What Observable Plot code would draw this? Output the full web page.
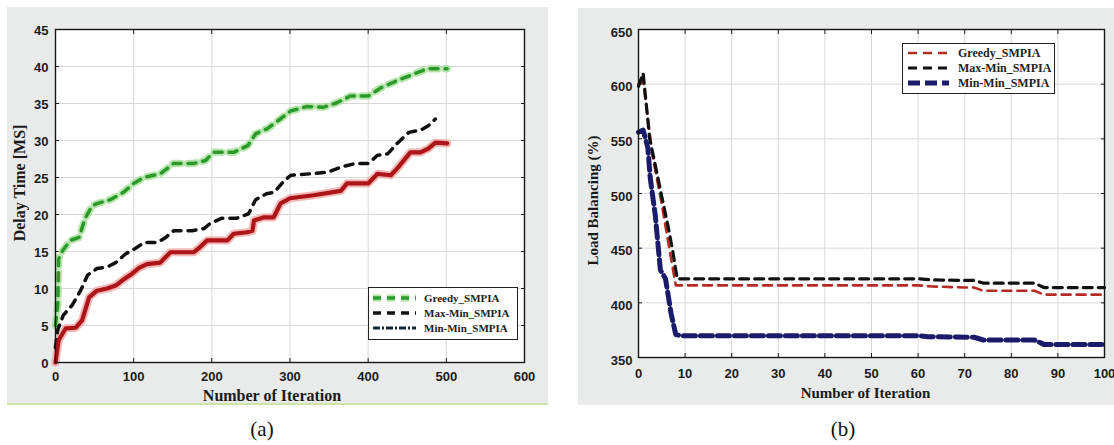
<!DOCTYPE html>
<html><head><meta charset="utf-8">
<script src="https://cdn.jsdelivr.net/npm/d3@7"></script>
<script src="https://cdn.jsdelivr.net/npm/@observablehq/plot@0.6"></script>
<style>
body{margin:0;background:#fff;}
#wrap{position:relative;width:1114px;height:445px;overflow:hidden;}
.panel{position:absolute;background:#e9eaea;}
.panel svg{display:block;}
.cap{position:absolute;font-family:"Liberation Serif","Times New Roman",serif;font-size:21px;color:#111;transform:translate(-50%,-50%);}
.legend{position:absolute;background:#fff;border:1.5px solid #222;box-sizing:border-box;}
.legend svg{display:block;overflow:visible;}
</style></head><body><div id="wrap"></div>
<script>
// ---------- data ----------
const seriesNames = ["Greedy_SMPIA", "Max-Min_SMPIA", "Min-Min_SMPIA"];

// Panel (a): Delay Time [MS] vs Number of Iteration
const delayXTicks = [0, 100, 200, 300, 400, 500, 600];
const delayYTicks = [0, 5, 10, 15, 20, 25, 30, 35, 40, 45];
const delayGreedy = [[0,5],[3,8],[4,14],[9,15.1],[19,16.5],[30,16.9],[38,19.5],[47,21.2],[54,21.5],[70,22],[87,23],[100,24.2],[113,25],[134,25.5],[151,26.9],[177,26.9],[192,27.3],[202,28.4],[228,28.4],[246,29.3],[256,30.9],[271,31.6],[285,32.7],[301,34],[322,34.6],[343,34.5],[360,35.1],[377,36],[400,36],[416,37.1],[437,38.1],[454,38.8],[476,39.7],[501,39.7]];
const delayMaxMin = [[0,2],[2.5,4.3],[10,6.4],[21,7.7],[32,9.7],[41,11.8],[53,12.7],[66,12.9],[77,13.5],[90,14.7],[102,15.4],[113,16.2],[130,16.2],[141,16.9],[151,17.8],[175,17.8],[190,18.1],[198,18.8],[213,19.5],[232,19.5],[247,20.1],[256,22],[270,22.8],[280,23],[292,24.5],[301,25.3],[326,25.5],[348,25.7],[365,26.4],[384,26.9],[400,26.9],[412,28],[425,28.2],[437,29.6],[452,31.1],[467,31.4],[477,32],[486,32.9]];
const delayMinMin = [[0,0],[4,3],[13,4.6],[26,4.7],[34,5.7],[43,8.8],[53,9.7],[66,10],[77,10.4],[88,11.3],[98,12],[107,12.8],[117,13.3],[134,13.5],[147,14.9],[177,14.9],[185,15.6],[194,16.5],[220,16.5],[228,17.4],[245,17.6],[252,17.8],[254,19.2],[266,19.6],[279,19.6],[288,21.5],[300,22.2],[330,22.6],[365,23.2],[373,24.2],[400,24.2],[412,25.5],[429,25.3],[437,26.2],[454,28.4],[467,28.4],[477,28.9],[486,29.7],[501,29.6]];

// Panel (b): Load Balancing (%) vs Number of Iteration
const loadXTicks = [0, 10, 20, 30, 40, 50, 60, 70, 80, 90, 100];
const loadYTicks = [350, 400, 450, 500, 550, 600, 650];
const loadGreedy = [[0,600],[1,603],[3,535],[5,490],[6.6,450],[8,416],[60,416],[63,415],[70,414],[72,414],[74,411],[85,411],[87,407.5],[100,407.5]];
const loadMaxMin = [[0,598],[1,610],[2.4,550],[3.6,526],[5.1,495],[6.3,471],[7.4,446],[8.3,422],[60,422],[63,421],[70,420.5],[72,420.5],[74,418],[85,418],[87,414],[100,414]];
const loadMinMin = [[0,556],[1,558],[2,542],[2.5,515],[3.6,480],[4.7,430],[5.8,422],[7,390],[8,371],[9,370],[60,370],[62,369],[72,368.5],[74,366],[85,366],[87,362],[100,362]];

// ---------- styles ----------
const styleA = [
  {stroke:"#2b9a2b", width:3.5, dash:"8,7", halo:"#a6de98"},
  {stroke:"#111111", width:3.5, dash:"8,7", halo:null},
  {stroke:"#ad1518", width:4.2, dash:null, halo:"#f0a8a8"}
];
const legendStyleA = [
  {stroke:"#2b9a2b", width:3.5, dash:"8,6", halo:"#a6de98"},
  {stroke:"#111111", width:3.5, dash:"8,6", halo:null},
  {stroke:"#10283e", width:3, dash:"7,2,2,2", halo:null}
];
const styleB = [
  {stroke:"#b62a24", width:2.6, dash:"9,6", halo:null},
  {stroke:"#111111", width:3.2, dash:"9,6", halo:null},
  {stroke:"#1b1b6c", width:5, dash:"12,5", halo:null}
];

const rows = s => s.map(([x, y]) => ({x, y}));
const serif = "'Liberation Serif','Times New Roman',serif";
const sans = "'Liberation Sans',Arial,sans-serif";

function lineMarks(series, styles) {
  const out = [];
  series.forEach((s, i) => {
    const st = styles[i];
    if (st.halo) out.push(Plot.line(rows(s), {x:"x", y:"y", stroke:st.halo, strokeWidth:st.width + 4, strokeDasharray:st.dash, strokeOpacity:0.8}));
  });
  series.forEach((s, i) => {
    const st = styles[i];
    out.push(Plot.line(rows(s), {x:"x", y:"y", stroke:st.stroke, strokeWidth:st.width, strokeDasharray:st.dash, strokeLinejoin:"round"}));
  });
  return out;
}

function makePanel(cfg) {
  const grid = {stroke:"#d8d8d8", strokeOpacity:1, strokeWidth:1};
  return Plot.plot({
    width: cfg.width, height: cfg.height,
    marginLeft: cfg.ml, marginTop: cfg.mt, marginRight: cfg.mr, marginBottom: cfg.mb,
    style: {background:"transparent", fontFamily:sans, fontSize:"13px", fontWeight:"bold", color:"#1c1c1c", overflow:"visible"},
    x: {domain: cfg.xDomain},
    y: {domain: cfg.yDomain},
    marks: [
      Plot.frame({fill:"white"}),
      Plot.gridX(cfg.xTicks, grid),
      Plot.gridY(cfg.yTicks, grid),
      Plot.axisX(cfg.xTicks, {anchor:"bottom", tickSize:0, tickPadding:cfg.xPad, label:null}),
      Plot.axisY(cfg.yTicks, {anchor:"left", tickSize:0, tickPadding:cfg.yPad, dy:cfg.yDy, label:null}),
      Plot.axisX(cfg.xTicks, {anchor:"bottom", tickSize:-4, tickFormat:() => "", label:null}),
      Plot.axisX(cfg.xTicks, {anchor:"top", tickSize:-4, tickFormat:() => "", label:null}),
      Plot.axisY(cfg.yTicks, {anchor:"left", tickSize:-4, tickFormat:() => "", label:null}),
      Plot.axisY(cfg.yTicks, {anchor:"right", tickSize:-4, tickFormat:() => "", label:null}),
      ...lineMarks(cfg.series, cfg.styles),
      Plot.frame({stroke:"#161616", strokeWidth:1.4}),
      Plot.text([cfg.xLabel], {text:d => d, frameAnchor:"bottom", dx:cfg.xlDx, dy:cfg.xlDy, fontFamily:serif, fontSize:cfg.labelSize, fontWeight:"bold", fill:"#1a1a1a", lineAnchor:"middle"}),
      Plot.text([cfg.yLabel], {text:d => d, frameAnchor:"left", rotate:-90, dx:cfg.ylDx, dy:cfg.ylDy, fontFamily:serif, fontSize:cfg.labelSize, fontWeight:"bold", fill:"#1a1a1a", lineAnchor:"middle", textAnchor:"middle"})
    ]
  });
}

function makeLegend(box, styles) {
  const div = document.createElement("div");
  div.className = "legend";
  Object.assign(div.style, {left: box.left + "px", top: box.top + "px", width: box.w + "px", height: box.h + "px"});
  const svg = d3.create("svg").attr("width", box.w - 3).attr("height", box.h - 3);
  seriesNames.forEach((name, i) => {
    const st = styles[i], y = box.rows[i];
    if (st.halo) svg.append("line").attr("x1", box.x1).attr("x2", box.x2).attr("y1", y).attr("y2", y)
      .attr("stroke", st.halo).attr("stroke-width", st.width + 4).attr("stroke-dasharray", st.dash).attr("stroke-opacity", 0.8);
    svg.append("line").attr("x1", box.x1).attr("x2", box.x2).attr("y1", y).attr("y2", y)
      .attr("stroke", st.stroke).attr("stroke-width", st.width).attr("stroke-dasharray", st.dash);
    svg.append("text").attr("x", box.tx).attr("y", y).attr("dy", "0.35em").text(name)
      .attr("font-family", serif).attr("font-weight", "bold").attr("font-size", box.fs).attr("fill", "#222");
  });
  div.appendChild(svg.node());
  return div;
}

const wrap = document.getElementById("wrap");

// panel (a)
const pa = document.createElement("div");
pa.className = "panel";
Object.assign(pa.style, {left:"7px", top:"7px", width:"541px", height:"396px", borderBottom:"2px solid #cfe2a6"});
pa.appendChild(makePanel({
  width:541, height:396, ml:48, mt:22, mr:24, mb:41,
  xDomain:[0,600], yDomain:[0,45], xTicks:delayXTicks, yTicks:delayYTicks,
  xPad:9, yPad:7, yDy:1,
  series:[delayGreedy, delayMaxMin, delayMinMin], styles:styleA,
  xLabel:"Number of Iteration", yLabel:"Delay Time [MS]", labelSize:16,
  xlDx:-18, xlDy:33, ylDx:-36, ylDy:-13
}));
wrap.appendChild(pa);

// panel (b)
const pb = document.createElement("div");
pb.className = "panel";
Object.assign(pb.style, {left:"578px", top:"8px", width:"536px", height:"397px"});
pb.appendChild(makePanel({
  width:536, height:397, ml:60, mt:21, mr:10, mb:48,
  xDomain:[0,100], yDomain:[350,650], xTicks:loadXTicks, yTicks:loadYTicks,
  xPad:11, yPad:6, yDy:3,
  series:[loadGreedy, loadMaxMin, loadMinMin], styles:styleB,
  xLabel:"Number of Iteration", yLabel:"Load Balancing (%)", labelSize:15,
  xlDx:-6, xlDy:36, ylDx:-45, ylDy:7
}));
wrap.appendChild(pb);

wrap.appendChild(makeLegend({left:368, top:287, w:150, h:53, rows:[10,25,40], x1:4, x2:47, tx:55, fs:11}, legendStyleA));
wrap.appendChild(makeLegend({left:902, top:43, w:153, h:51, rows:[9,24,39], x1:5, x2:46, tx:55, fs:12}, styleB));

for (const [t, x] of [["(a)", 262], ["(b)", 843]]) {
  const c = document.createElement("div");
  c.className = "cap"; c.textContent = t;
  Object.assign(c.style, {left: x + "px", top: "429px"});
  wrap.appendChild(c);
}
</script></body></html>
